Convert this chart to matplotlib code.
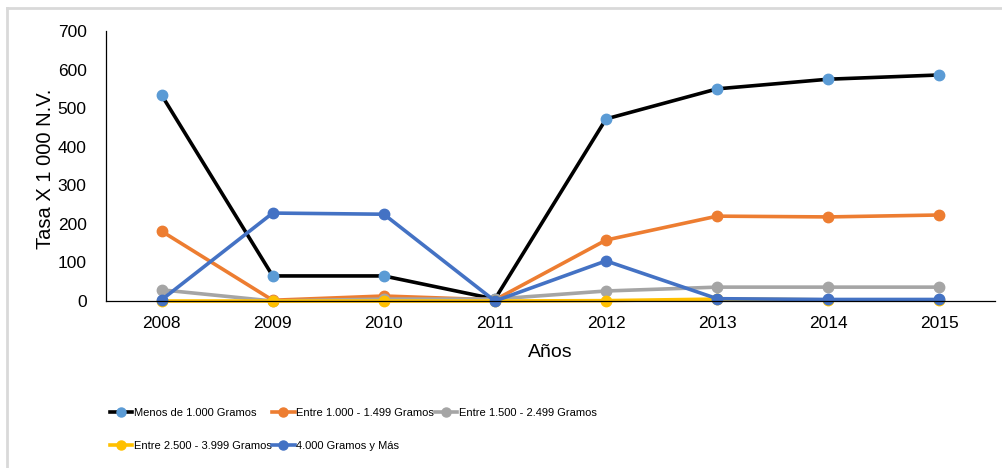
import matplotlib
matplotlib.use("Agg")
import matplotlib.pyplot as plt
from matplotlib.lines import Line2D

# birth weight groups, rate per 1 000 live births
years = ["2008", "2009", "2010", "2011", "2012", "2013", "2014", "2015"]
menos_1000 = [534, 65, 65, 5, 472, 550, 575, 586]
entre_1000_1499 = [181, 2, 13, 3, 158, 220, 218, 223]
entre_1500_2499 = [29, 0, 5, 5, 26, 36, 36, 36]
entre_2500_3999 = [0, 0, 0, 0, 1, 5, 3, 3]
mas_4000 = [3, 228, 225, 0, 104, 6, 4, 4]

labels = ["Menos de 1.000 Gramos", "Entre 1.000 - 1.499 Gramos",
          "Entre 1.500 - 2.499 Gramos", "Entre 2.500 - 3.999 Gramos",
          "4.000 Gramos y Más"]
line_colors = ["#000000", "#ED7D31", "#A5A5A5", "#FFC000", "#4472C4"]
marker_colors = ["#5B9BD5", "#ED7D31", "#A5A5A5", "#FFC000", "#4472C4"]

plt.rcParams["font.family"] = ["Liberation Sans", "DejaVu Sans"]

fig = plt.figure(figsize=(10.03, 4.68), dpi=100)
ax = fig.add_axes([0.1057, 0.3568, 0.8863, 0.5770])

x = range(len(years))
series = [menos_1000, entre_1000_1499, entre_1500_2499, entre_2500_3999, mas_4000]
handles = []
for vals, lc, mc, lab in zip(series, line_colors, marker_colors, labels):
    h, = ax.plot(x, vals, color=lc, lw=2.6, marker="o", ms=7.5,
                 mfc=mc, mec=mc, label=lab, clip_on=False)
    handles.append(h)

ax.set_xlim(-0.5, len(years) - 0.5)
ax.set_ylim(0, 700)
ax.set_yticks(range(0, 701, 100))
ax.set_xticks(list(x))
ax.set_xticklabels(years)
ax.tick_params(length=0, labelsize=12.5, colors="#000000")
ax.tick_params(axis="y", pad=14)
ax.tick_params(axis="x", pad=11)

for side in ["top", "right"]:
    ax.spines[side].set_visible(False)
ax.spines["left"].set_color("#000000")
ax.spines["bottom"].set_color("#000000")
ax.spines["left"].set_linewidth(0.9)
ax.spines["bottom"].set_linewidth(0.9)

ax.set_ylabel("Tasa X 1 000 N.V.", fontsize=14.5)
ax.yaxis.set_label_coords(-0.057, 0.49)
ax.set_xlabel("Años", fontsize=14)
ax.xaxis.set_label_coords(0.5, -0.16)

# legend laid out row by row across three columns
order = [0, 3, 1, 4, 2]
leg = fig.legend([handles[i] for i in order], [labels[i] for i in order],
                 ncol=3, loc="upper left", bbox_to_anchor=(0.1097, 0.1285),
                 bbox_transform=fig.transFigure, frameon=False,
                 handlelength=2.0, handletextpad=0.15, columnspacing=0.05,
                 labelspacing=2.1, borderpad=0, borderaxespad=0,
                 prop={"size": 8.0})
for lh in leg.legend_handles:
    lh.set_markersize(6.5)

# light frame on the left and top edges
frame_kw = dict(color="#D9D9D9", lw=2, transform=fig.transFigure)
fig.add_artist(Line2D([7.5 / 1003, 7.5 / 1003], [0, 1 - 7.5 / 468], **frame_kw))
fig.add_artist(Line2D([7.5 / 1003, 1], [1 - 7.5 / 468, 1 - 7.5 / 468], **frame_kw))

fig.savefig("out.png", dpi=100)
